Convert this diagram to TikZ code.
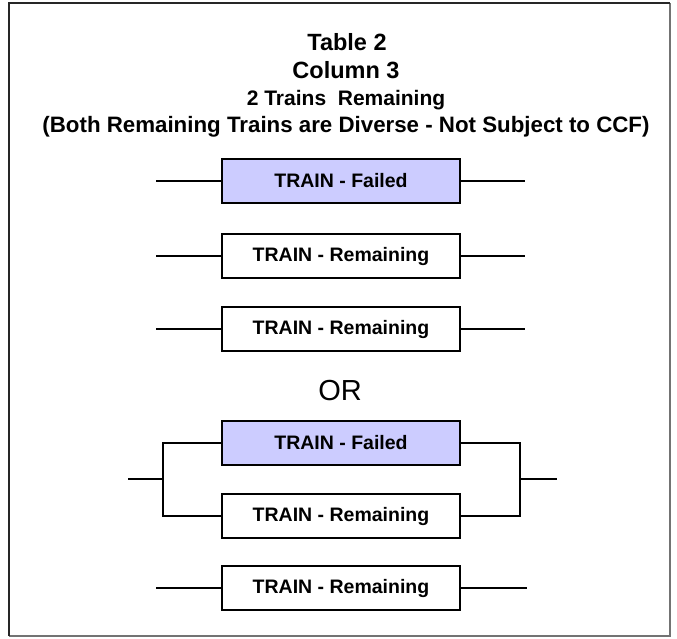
\documentclass[tikz,border=0pt]{standalone}
\usepackage{fontspec}
\setmainfont{Liberation Sans}
\begin{document}
\begin{tikzpicture}[x=1pt,y=-1pt,
  trainbox/.style={draw=black,line width=1.8pt,minimum width=238pt,minimum height=44pt,
    inner sep=0pt,font=\fontsize{19.5}{21}\selectfont\bfseries},
  failedbox/.style={trainbox,fill=failfill},
  wire/.style={line width=1.8pt,line cap=rect},
  titleline/.style={inner sep=0pt,anchor=base},
]
\definecolor{failfill}{RGB}{204,204,255}
\useasboundingbox (0,0) rectangle (677,638);
% outer frame
\fill[white] (0,0) rectangle (677,638);
\draw[line width=1.2pt,black!55] (670,3) -- (670,636) -- (9,636);
\draw[line width=2pt,black!85] (9,636) -- (9,3) -- (670,3);

% heading
\node[titleline,font=\fontsize{23.5}{25}\selectfont\bfseries] (t1) at (347,50) {Table 2};
\node[titleline,font=\fontsize{23.5}{25}\selectfont\bfseries] (t2) at (346,78) {Column 3};
\node[titleline,font=\fontsize{21}{22}\selectfont\bfseries] (t3) at (346,105) {2 Trains\ \ Remaining};
\node[titleline,font=\fontsize{22.3}{24}\selectfont\bfseries] (t4) at (346,132)
  {(Both Remaining Trains are Diverse - Not Subject to CCF)};

% series layout
\node[failedbox] (f1) at (341,181) {TRAIN - Failed};
\node[trainbox]  (r1) at (341,256) {TRAIN - Remaining};
\node[trainbox]  (r2) at (341,329) {TRAIN - Remaining};
\foreach \b in {f1,r1,r2}{
  \coordinate (\b-in)  at ([xshift=-64pt]\b.west);
  \coordinate (\b-out) at ([xshift=63pt]\b.east);
  \draw[wire] (\b-in) -- (\b.west);
  \draw[wire] (\b.east) -- (\b-out);
}

\node[titleline,font=\fontsize{29}{31}\selectfont] (or) at (340,400) {OR};

% parallel pair followed by a single train
\node[failedbox] (f2) at (341,443) {TRAIN - Failed};
\node[trainbox]  (r3) at (341,516) {TRAIN - Remaining};
\node[trainbox]  (r4) at (341,588) {TRAIN - Remaining};

\coordinate (jl) at (163,479);
\coordinate (jr) at (520,479);
\coordinate (pin)  at (129,479);
\coordinate (pout) at (556,479);
\draw[wire] (f2.west) -- (f2.west -| jl) -- (r3.west -| jl) -- (r3.west);
\draw[wire] (f2.east) -- (f2.east -| jr) -- (r3.east -| jr) -- (r3.east);
\draw[wire] (pin) -- (jl);
\draw[wire] (jr) -- (pout);

\coordinate (r4-in)  at ([xshift=-64pt]r4.west);
\coordinate (r4-out) at ([xshift=65pt]r4.east);
\draw[wire] (r4-in) -- (r4.west);
\draw[wire] (r4.east) -- (r4-out);
\end{tikzpicture}
\end{document}
